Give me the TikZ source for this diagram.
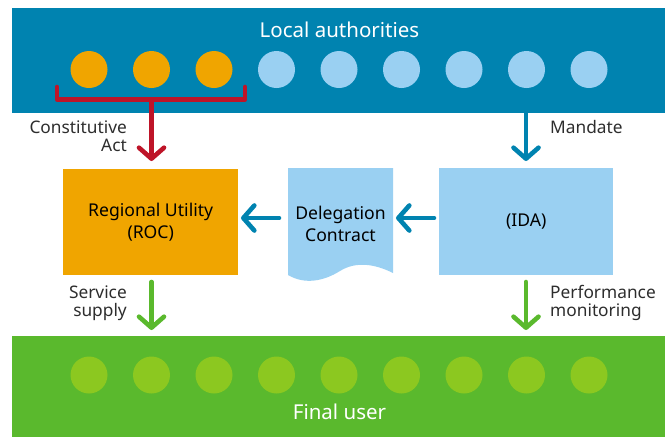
\documentclass[tikz,border=0pt]{standalone}
\usepackage{fontspec}
\setmainfont{Noto Sans}
\usetikzlibrary{arrows.meta}
\definecolor{topblue}{RGB}{0,131,176}
\definecolor{lightblue}{RGB}{154,208,242}
\definecolor{orangeY}{RGB}{240,165,0}
\definecolor{bracketred}{RGB}{190,20,40}
\definecolor{greenbar}{RGB}{90,185,45}
\definecolor{greendot}{RGB}{140,200,32}
\definecolor{txt}{RGB}{45,45,45}
\tikzset{
  bar/.style={draw=none, inner sep=0pt, anchor=north west},
  dot/.style={circle, draw=none, minimum size=37pt, inner sep=0pt},
  boxtext/.style={font=\fontsize{17.6}{22}\selectfont\bfseries, text=black, align=center},
  lbl/.style={font=\fontsize{17.3}{18}\selectfont, text=txt, inner sep=0pt},
  arr/.style={line width=4.6pt, -{Straight Barb[length=11pt,width=25pt,round]}},
}
\begin{document}
\begin{tikzpicture}[x=1pt,y=-1pt]
\useasboundingbox (0,0) rectangle (665,437);
% bars
\node[bar, fill=topblue, minimum width=653pt, minimum height=104.5pt] (top) at (12,8) {};
\node[font=\fontsize{20.5}{24}\selectfont, text=white] (toptxt) at (339.5,30) {Local authorities};
\node[bar, fill=greenbar, minimum width=653pt, minimum height=101pt] (bottom) at (12,336) {};
\node[font=\fontsize{20.5}{24}\selectfont, text=white] (bottxt) at (339.5,412) {Final user};
% dots
\foreach \i/\c in {1/orangeY,2/orangeY,3/orangeY,4/lightblue,5/lightblue,6/lightblue,7/lightblue,8/lightblue,9/lightblue}{
  \node[dot, fill=\c] (t\i) at ({89+62.5*(\i-1)},69.5) {};
  \node[dot, fill=greendot] (b\i) at ({89+62.5*(\i-1)},375) {};
}
% boxes
\node[bar, fill=orangeY, minimum width=175pt, minimum height=106pt] (roc) at (63,169) {};
\node[boxtext] at (roc.center) {Regional Utility\\(ROC)};
\node[bar, fill=lightblue, minimum width=174pt, minimum height=107pt] (ida) at (439,168) {};
\node[boxtext] at (ida.center) {(IDA)};
\fill[lightblue] (288,168) -- (393,168) -- (393,273)
  .. controls (375,264) and (356,261) .. (340,271)
  .. controls (324,281) and (305,285) .. (288,275) -- cycle;
\node[boxtext] (dc) at (340.5,224) {Delegation\\Contract};
% coordinates
\coordinate (brL) at (57,87);
\coordinate (brR) at (245,87);
\coordinate (brM) at (151.5,99.5);
\coordinate (rocT) at (151.5,161);
\coordinate (mandS) at (526,112);
\coordinate (mandE) at (526,161);
\coordinate (a1s) at (279,218);
\coordinate (a1e) at (241,218);
\coordinate (a2s) at (434,218);
\coordinate (a2e) at (396,218);
\coordinate (ssS) at (151.5,282);
\coordinate (ssE) at (151.5,330);
\coordinate (pmS) at (526,282);
\coordinate (pmE) at (526,330);
% bracket
\draw[bracketred, line width=4.6pt, line cap=round, line join=round] (brL) |- (brM) -| (brR);
\draw[bracketred, arr] (brM) -- (rocT);
% arrows
\draw[topblue, arr] (mandS) -- (mandE);
\draw[topblue, arr, line cap=round] (a1s) -- (a1e);
\draw[topblue, arr, line cap=round] (a2s) -- (a2e);
\draw[greenbar, arr, line cap=round] (ssS) -- (ssE);
\draw[greenbar, arr, line cap=round] (pmS) -- (pmE);
% labels
\node[lbl, anchor=east, align=right] (ca) at (127,136) {Constitutive\\Act};
\node[lbl, anchor=west] (md) at (550,127) {Mandate};
\node[lbl, anchor=east, align=right] (ss) at (127,303) {Service\\supply};
\node[lbl, anchor=west, align=left] (pm) at (550,303) {Performance\\monitoring};
\end{tikzpicture}
\end{document}
